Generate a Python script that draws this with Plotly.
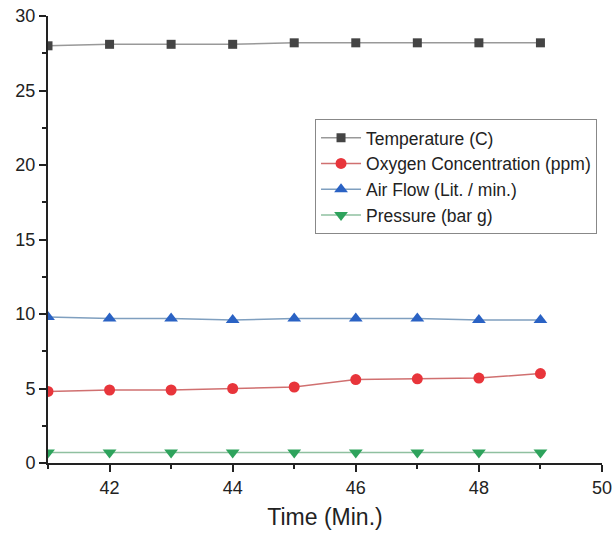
import plotly.graph_objects as go

time_min = [41, 42, 43, 44, 45, 46, 47, 48, 49]
temperature = [28.0, 28.1, 28.1, 28.1, 28.2, 28.2, 28.2, 28.2, 28.2]
oxygen = [4.8, 4.9, 4.9, 5.0, 5.1, 5.6, 5.65, 5.7, 6.0]
air_flow = [9.8, 9.7, 9.7, 9.6, 9.7, 9.7, 9.7, 9.6, 9.6]
pressure = [0.7, 0.7, 0.7, 0.7, 0.7, 0.7, 0.7, 0.7, 0.7]

series = [
    ("Temperature (C)", temperature, "#444444", "#999999", "square", 9),
    ("Oxygen Concentration (ppm)", oxygen, "#e8353b", "#d07070", "circle", 11),
    ("Air Flow (Lit. / min.)", air_flow, "#2a62c4", "#7f9fbf", "triangle-up", 12),
    ("Pressure (bar g)", pressure, "#2ea35c", "#8fc0a0", "triangle-down", 12),
]

fig = go.Figure()
for name, ys, mc, lc, sym, sz in series:
    fig.add_trace(go.Scatter(
        x=time_min, y=ys, name=name, mode="lines+markers",
        line=dict(color=lc, width=1.5),
        marker=dict(color=mc, symbol=sym, size=sz),
    ))

fig.update_layout(
    width=612, height=535,
    margin=dict(l=48, r=10, t=16, b=72),
    paper_bgcolor="white", plot_bgcolor="white",
    font=dict(family="Liberation Sans, Arial, sans-serif", color="#222222"),
    showlegend=True,
    legend=dict(
        x=0.482, y=0.77, xanchor="left", yanchor="top",
        bordercolor="#888888", borderwidth=1, bgcolor="white",
        font=dict(size=17.5), tracegroupgap=0, itemwidth=40,
    ),
    xaxis=dict(
        range=[41, 50], tickmode="linear", tick0=42, dtick=2,
        showgrid=False, zeroline=False, automargin=False,
        ticklabeloverflow="allow",
        showline=True, linecolor="#222222", linewidth=2,
        ticks="outside", ticklen=7, tickwidth=1.5, tickcolor="#222222",
        tickfont=dict(size=18),
        minor=dict(ticks="outside", dtick=1, tick0=41, ticklen=4, tickcolor="#222222"),
        title=dict(text="Time (Min.)", font=dict(size=23), standoff=12),
    ),
    yaxis=dict(
        range=[0, 30], tickmode="linear", tick0=0, dtick=5,
        showgrid=False, zeroline=False, automargin=False,
        ticklabeloverflow="allow",
        showline=True, linecolor="#222222", linewidth=2,
        ticks="outside", ticklen=7, tickwidth=1.5, tickcolor="#222222",
        tickfont=dict(size=18),
        minor=dict(ticks="outside", dtick=2.5, ticklen=4, tickcolor="#222222"),
    ),
)

fig.write_html("out.html")
